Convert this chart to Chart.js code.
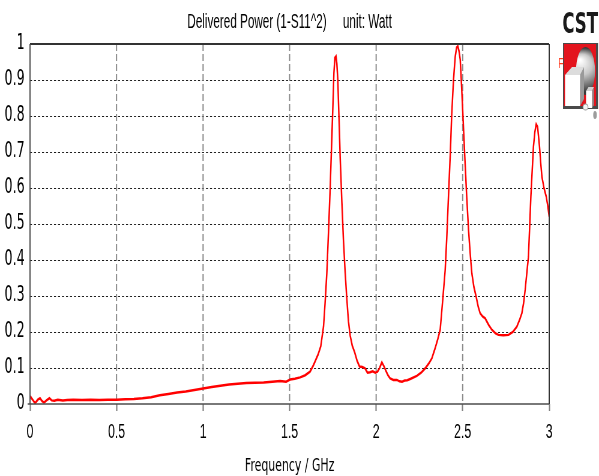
<!DOCTYPE html>
<html lang="en">
<head>
    <meta charset="UTF-8">
    <script src="https://cdn.jsdelivr.net/npm/chart.js"></script>
    <style>
        body {
            margin: 0;
            padding: 0;
            background: #fff;
            overflow: hidden;
        }
    </style>
</head>
<body>
    <!-- drawn wide, then squeezed horizontally to the page width -->
    <canvas id="power" width="998" height="476" style="width:599px;height:476px;display:block"></canvas>
    <script>
        // frequency in GHz
        const freqGHz = [
            0.000, 0.015, 0.029, 0.045, 0.058, 0.070, 0.081, 0.095, 0.112, 0.125,
            0.140, 0.160, 0.190, 0.215, 0.250, 0.300, 0.350, 0.400, 0.450, 0.500,
            0.550, 0.600, 0.650, 0.700, 0.750, 0.800, 0.850, 0.900, 0.950, 1.000,
            1.050, 1.100, 1.150, 1.200, 1.250, 1.300, 1.350, 1.400, 1.445, 1.480,
            1.503, 1.530, 1.561, 1.590, 1.618, 1.635, 1.647, 1.665, 1.680, 1.696,
            1.705, 1.715, 1.725, 1.734, 1.742, 1.750, 1.756, 1.762, 1.768, 1.773,
            1.778, 1.785, 1.792, 1.802, 1.811, 1.821, 1.831, 1.840, 1.850, 1.862,
            1.875, 1.890, 1.904, 1.920, 1.936, 1.950, 1.965, 1.980, 1.995, 2.008,
            2.020, 2.033, 2.045, 2.055, 2.068, 2.081, 2.100, 2.120, 2.135, 2.150,
            2.165, 2.180, 2.200, 2.235, 2.260, 2.283, 2.305, 2.322, 2.341, 2.356,
            2.370, 2.385, 2.399, 2.408, 2.418, 2.428, 2.437, 2.447, 2.457, 2.465,
            2.472, 2.479, 2.486, 2.494, 2.501, 2.514, 2.524, 2.534, 2.544, 2.553,
            2.565, 2.578, 2.590, 2.601, 2.615, 2.630, 2.650, 2.669, 2.690, 2.707,
            2.735, 2.765, 2.790, 2.813, 2.830, 2.842, 2.852, 2.861, 2.870, 2.880,
            2.887, 2.894, 2.902, 2.909, 2.917, 2.925, 2.933, 2.944, 2.951, 2.958,
            2.970, 2.983, 2.992, 3.000
        ];
        // delivered power (1 - |S11|^2), Watt
        const power = [
            0.022, 0.012, 0.002, 0.012, 0.016, 0.008, 0.004, 0.010, 0.016, 0.010,
            0.009, 0.012, 0.010, 0.011, 0.012, 0.011, 0.012, 0.011, 0.012, 0.012,
            0.013, 0.014, 0.016, 0.019, 0.024, 0.028, 0.032, 0.035, 0.039, 0.043,
            0.047, 0.051, 0.054, 0.056, 0.058, 0.059, 0.060, 0.062, 0.064, 0.062,
            0.068, 0.070, 0.074, 0.080, 0.090, 0.105, 0.118, 0.138, 0.160, 0.215,
            0.280, 0.363, 0.480, 0.594, 0.710, 0.826, 0.920, 0.962, 0.966, 0.945,
            0.905, 0.800, 0.687, 0.560, 0.456, 0.365, 0.289, 0.230, 0.190, 0.162,
            0.145, 0.120, 0.104, 0.103, 0.099, 0.087, 0.088, 0.091, 0.087, 0.090,
            0.100, 0.116, 0.105, 0.094, 0.080, 0.071, 0.067, 0.067, 0.063, 0.062,
            0.065, 0.066, 0.070, 0.078, 0.087, 0.099, 0.113, 0.127, 0.155, 0.180,
            0.206, 0.290, 0.372, 0.460, 0.576, 0.690, 0.807, 0.900, 0.965, 0.990,
            0.994, 0.980, 0.956, 0.880, 0.807, 0.669, 0.570, 0.483, 0.415, 0.363,
            0.325, 0.298, 0.270, 0.252, 0.243, 0.238, 0.220, 0.206, 0.196, 0.192,
            0.191, 0.192, 0.200, 0.215, 0.235, 0.252, 0.280, 0.317, 0.360, 0.409,
            0.490, 0.576, 0.650, 0.715, 0.755, 0.777, 0.770, 0.715, 0.670, 0.631,
            0.600, 0.576, 0.550, 0.520
        ];
        const xTicks = [0, 0.5, 1, 1.5, 2, 2.5, 3];
        const yTicks = [0, 0.1, 0.2, 0.3, 0.4, 0.5, 0.6, 0.7, 0.8, 0.9, 1];
        const titleText = 'Delivered Power (1-S11^2)     unit: Watt';
        const xTitle = 'Frequency / GHz';

        const SX = 599 / 998;   // horizontal squeeze applied by css
        const arial = "'Liberation Sans', Arial, sans-serif";
        const dejavu = "'DejaVu Sans', Verdana, sans-serif";

        // dotted / dashed grid and the plot frame
        const cstGrid = {
            id: 'cstGrid',
            beforeDatasetsDraw(chart) {
                const { ctx, chartArea: a, scales: { x, y } } = chart;
                ctx.save();
                ctx.strokeStyle = '#1a1a1a';
                ctx.lineWidth = 1.1;
                ctx.setLineDash([2 / SX, 2 / SX]);
                yTicks.forEach(v => {
                    if (v <= 0 || v >= 1) return;
                    const py = Math.round(y.getPixelForValue(v)) + 0.5;
                    ctx.beginPath();
                    ctx.moveTo(a.left, py);
                    ctx.lineTo(a.right, py);
                    ctx.stroke();
                });
                ctx.strokeStyle = '#8a8a8a';
                ctx.lineWidth = 1.2 / SX;
                ctx.setLineDash([7, 3]);
                xTicks.forEach(v => {
                    if (v <= 0 || v >= 3) return;
                    const px = x.getPixelForValue(v);
                    ctx.beginPath();
                    ctx.moveTo(px, a.top);
                    ctx.lineTo(px, a.bottom);
                    ctx.stroke();
                });
                ctx.restore();
            },
            afterDatasetsDraw(chart) {
                const { ctx, chartArea: a } = chart;
                ctx.save();
                ctx.setLineDash([]);
                // top + right
                ctx.strokeStyle = '#333';
                ctx.lineWidth = 1.8;
                ctx.beginPath();
                ctx.moveTo(a.left, a.top);
                ctx.lineTo(a.right, a.top);
                ctx.stroke();
                ctx.lineWidth = 1.2 / SX;
                ctx.beginPath();
                ctx.moveTo(a.right, a.top);
                ctx.lineTo(a.right, a.bottom);
                ctx.stroke();
                // axes
                ctx.strokeStyle = '#4d4d4d';
                ctx.lineWidth = 1.5;
                ctx.beginPath();
                ctx.moveTo(a.left - 4, a.bottom);
                ctx.lineTo(a.right, a.bottom);
                ctx.stroke();
                ctx.lineWidth = 1.2 / SX;
                ctx.beginPath();
                ctx.moveTo(a.left, a.top);
                ctx.lineTo(a.left, a.bottom);
                ctx.stroke();
                ctx.restore();
            }
        };

        // CST logo in the top right corner
        const cstLogo = {
            id: 'cstLogo',
            afterDraw(chart) {
                const ctx = chart.ctx;
                ctx.save();
                ctx.fillStyle = '#1a1a1a';
                ctx.font = "bold 27.5px " + dejavu;
                ctx.textBaseline = 'alphabetic';
                ctx.fillText('CST', 937, 33);
                ctx.fillStyle = '#ff3b1f';
                ctx.font = '15px ' + arial;
                ctx.fillText('F', 930, 68);

                // shapes below are written in page pixels
                ctx.scale(1 / SX, 1);
                ctx.fillStyle = '#4a4a4a';
                ctx.fillRect(563, 43, 35, 66);
                ctx.fillStyle = '#e3141d';
                ctx.fillRect(564, 44, 32, 62);

                const g = ctx.createRadialGradient(580, 60, 1, 584, 70, 22);
                g.addColorStop(0, '#ffffff');
                g.addColorStop(0.45, '#c8c8c8');
                g.addColorStop(1, '#3a3a3a');
                ctx.fillStyle = g;
                ctx.beginPath();
                ctx.ellipse(585.5, 71, 9.5, 24, 0, 0, Math.PI * 2);
                ctx.fill();

                // big cube
                ctx.fillStyle = '#dcdcdc';
                ctx.beginPath();
                ctx.moveTo(565, 75); ctx.lineTo(572, 67); ctx.lineTo(584, 67); ctx.lineTo(580, 75);
                ctx.closePath(); ctx.fill();
                ctx.fillStyle = '#9a9a9a';
                ctx.beginPath();
                ctx.moveTo(580, 75); ctx.lineTo(584, 67); ctx.lineTo(584, 99); ctx.lineTo(580, 106);
                ctx.closePath(); ctx.fill();
                ctx.fillStyle = '#ffffff';
                ctx.fillRect(565, 75, 15, 31);

                // small cube
                ctx.fillStyle = '#d0d0d0';
                ctx.beginPath();
                ctx.moveTo(586, 91); ctx.lineTo(588.5, 87); ctx.lineTo(594, 87); ctx.lineTo(592, 91);
                ctx.closePath(); ctx.fill();
                ctx.fillStyle = '#8a8a8a';
                ctx.beginPath();
                ctx.moveTo(592, 91); ctx.lineTo(594, 87); ctx.lineTo(594, 105); ctx.lineTo(592, 108);
                ctx.closePath(); ctx.fill();
                ctx.fillStyle = '#ffffff';
                ctx.fillRect(586, 91, 6, 17);

                ctx.fillStyle = '#f4f4f4';
                ctx.strokeStyle = '#999';
                ctx.lineWidth = 0.8;
                ctx.beginPath();
                ctx.ellipse(585.5, 107, 2.5, 3, 0, 0, Math.PI * 2);
                ctx.fill(); ctx.stroke();
                ctx.fillStyle = '#9c9c9c';
                ctx.beginPath();
                ctx.ellipse(595, 115, 1.8, 4, 0, 0, Math.PI * 2);
                ctx.fill();
                ctx.restore();
            }
        };

        const ctx = document.getElementById('power').getContext('2d');
        const powerChart = new Chart(ctx, {
            type: 'line',
            data: {
                datasets: [{
                    data: freqGHz.map((f, i) => ({ x: f, y: power[i] })),
                    borderColor: '#ff0000',
                    borderWidth: 2.5,
                    pointRadius: 0,
                    tension: 0,
                    fill: false
                }]
            },
            options: {
                responsive: false,
                animation: false,
                devicePixelRatio: 1,
                layout: { padding: { left: 0, right: 83, top: 0, bottom: 0 } },
                plugins: {
                    legend: { display: false },
                    tooltip: { enabled: false },
                    title: {
                        display: true,
                        text: titleText,
                        fullSize: false,
                        color: '#000',
                        font: { family: arial, size: 19.5, weight: 'normal', lineHeight: 1.2 },
                        padding: { top: 10.6, bottom: 10 }
                    }
                },
                scales: {
                    x: {
                        type: 'linear',
                        min: 0,
                        max: 3,
                        afterBuildTicks: s => { s.ticks = xTicks.map(v => ({ value: v })); },
                        afterFit: s => { s.height = 72; },
                        grid: {
                            drawOnChartArea: false,
                            drawTicks: true,
                            tickLength: 7,
                            tickColor: '#808080',
                            tickWidth: 1.3 / SX
                        },
                        border: { display: false },
                        ticks: {
                            color: '#000',
                            font: { family: arial, size: 20.5, lineHeight: 1.2 },
                            padding: 9,
                            maxRotation: 0,
                            autoSkip: false,
                            callback: v => String(v)
                        },
                        title: {
                            display: true,
                            text: xTitle,
                            color: '#000',
                            font: { family: dejavu, size: 18.2, lineHeight: 1.2 },
                            padding: { top: 0, bottom: -0.8 }
                        }
                    },
                    y: {
                        min: 0,
                        max: 1,
                        afterBuildTicks: s => { s.ticks = yTicks.map(v => ({ value: v })); },
                        afterFit: s => { s.width = 50; },
                        grid: { drawOnChartArea: false, drawTicks: false },
                        border: { display: false },
                        ticks: {
                            color: '#000',
                            font: { family: dejavu, size: 21 },
                            padding: 9,
                            callback: v => String(v)
                        }
                    }
                }
            },
            plugins: [cstGrid, cstLogo]
        });
    </script>
</body>
</html>
